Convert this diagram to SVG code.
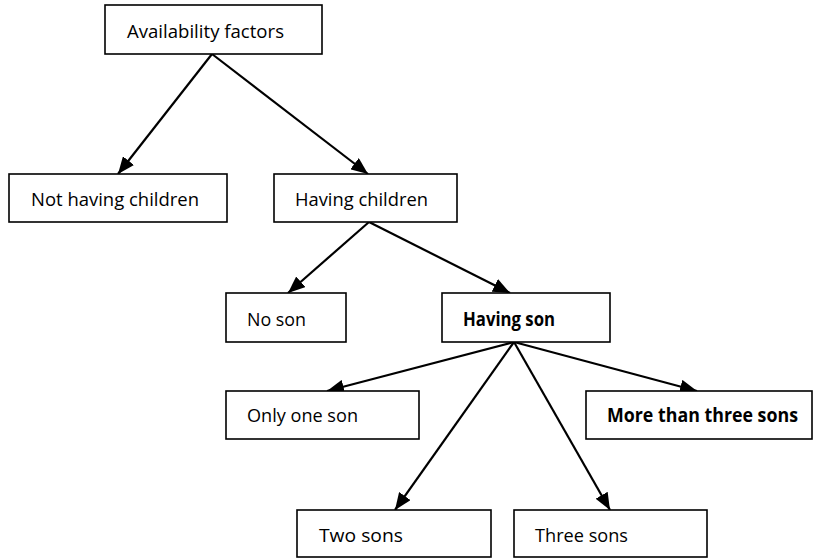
<svg xmlns="http://www.w3.org/2000/svg" width="818" height="558" viewBox="0 0 818 558">
  <style>
    .box { fill: #fff; stroke: #000; stroke-width: 1.6; }
    .lbl { font-family: "Open Sans", "Liberation Sans", sans-serif; font-size: 19px; fill: #000; }
    .bold { font-weight: bold; }
    .edge { stroke: #000; stroke-width: 2.2; fill: none; marker-end: url(#head); }
  </style>
  <defs>
    <marker id="head" markerUnits="userSpaceOnUse" markerWidth="18" markerHeight="14" refX="17" refY="7" orient="auto">
      <path d="M0,0 L17,7 L0,14 Z" fill="#000"/>
    </marker>
  </defs>

  <g id="connectors">
    <line class="edge" x1="212" y1="54" x2="118" y2="174"/>
    <line class="edge" x1="212" y1="54" x2="368" y2="174"/>
    <line class="edge" x1="369" y1="222" x2="288" y2="293"/>
    <line class="edge" x1="369" y1="222" x2="510" y2="293"/>
    <line class="edge" x1="514" y1="342" x2="327" y2="391"/>
    <line class="edge" x1="514" y1="342" x2="697" y2="391"/>
    <line class="edge" x1="514" y1="342" x2="395" y2="510"/>
    <line class="edge" x1="514" y1="342" x2="610" y2="510"/>
  </g>

  <g id="availability-factors">
    <rect class="box" x="105" y="5" width="217" height="49"/>
    <text class="lbl" x="127" y="38" textLength="157" lengthAdjust="spacingAndGlyphs">Availability factors</text>
  </g>
  <g id="not-having-children">
    <rect class="box" x="9" y="174" width="218" height="48"/>
    <text class="lbl" x="31" y="206" textLength="168" lengthAdjust="spacingAndGlyphs">Not having children</text>
  </g>
  <g id="having-children">
    <rect class="box" x="274" y="174" width="183" height="48"/>
    <text class="lbl" x="295" y="206" textLength="133" lengthAdjust="spacingAndGlyphs">Having children</text>
  </g>
  <g id="no-son">
    <rect class="box" x="226" y="293" width="120" height="49"/>
    <text class="lbl" x="247" y="326" textLength="59" lengthAdjust="spacingAndGlyphs">No son</text>
  </g>
  <g id="having-son">
    <rect class="box" x="442" y="293" width="168" height="49"/>
    <text class="lbl bold" x="463" y="326" textLength="92" lengthAdjust="spacingAndGlyphs">Having son</text>
  </g>
  <g id="only-one-son">
    <rect class="box" x="226" y="391" width="193" height="48"/>
    <text class="lbl" x="247" y="422" textLength="111" lengthAdjust="spacingAndGlyphs">Only one son</text>
  </g>
  <g id="more-than-three-sons">
    <rect class="box" x="586" y="391" width="226" height="48"/>
    <text class="lbl bold" x="607" y="422" textLength="191" lengthAdjust="spacingAndGlyphs">More than three sons</text>
  </g>
  <g id="two-sons">
    <rect class="box" x="297" y="510" width="194" height="47"/>
    <text class="lbl" x="319" y="542" textLength="84" lengthAdjust="spacingAndGlyphs">Two sons</text>
  </g>
  <g id="three-sons">
    <rect class="box" x="514" y="510" width="193" height="47"/>
    <text class="lbl" x="535" y="542" textLength="93" lengthAdjust="spacingAndGlyphs">Three sons</text>
  </g>
</svg>
